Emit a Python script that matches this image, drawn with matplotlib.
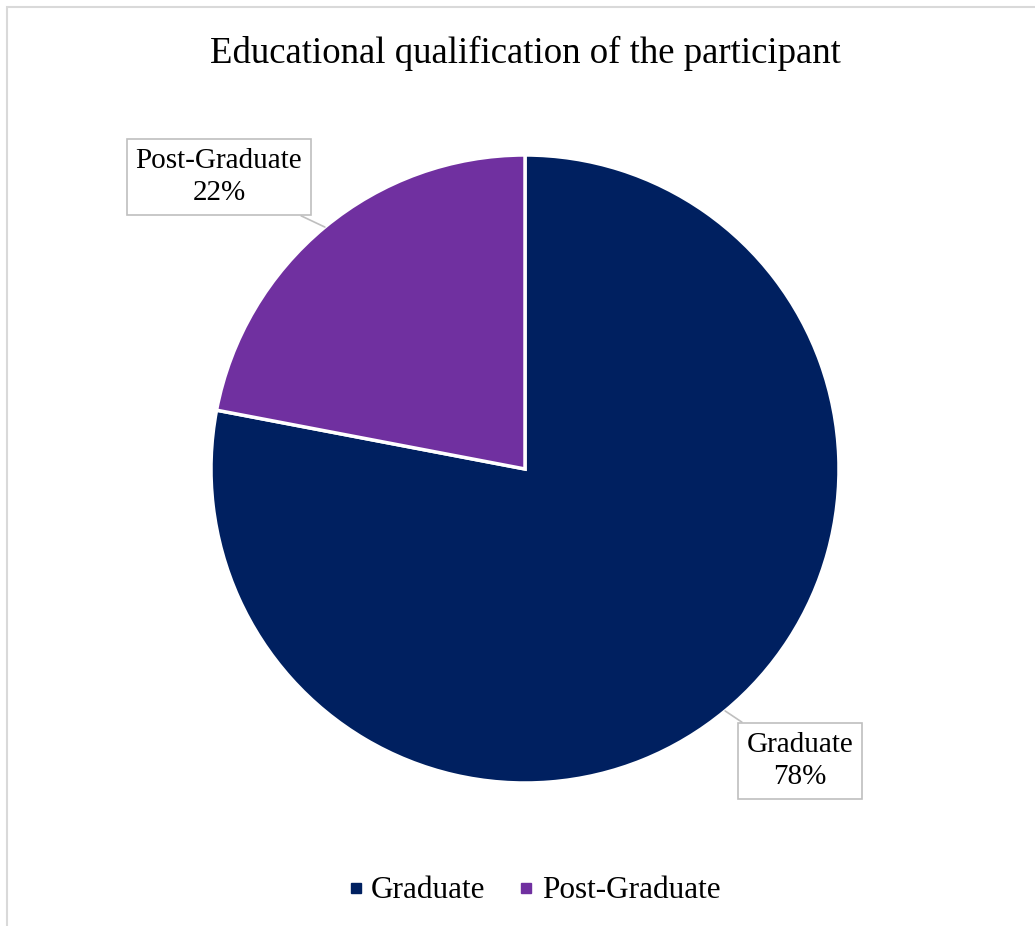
import numpy as np
import matplotlib.pyplot as plt
from matplotlib.patches import Rectangle

plt.rcParams['font.family'] = ['Liberation Serif', 'DejaVu Serif']

categories = ['Graduate', 'Post-Graduate']
shares = [78, 22]
colors = ['#002060', '#7030A0']
title = 'Educational qualification of the participant'

W, H = 1035, 926
fig = plt.figure(figsize=(W / 100, H / 100), dpi=100)
ax = fig.add_axes([0, 0, 1, 1])

# outer chart frame, cut off at right and bottom
fig.patches.append(Rectangle((7 / W, -0.1), 1.2, 1.1 - 7 / H, transform=fig.transFigure,
                             fill=False, edgecolor='#d9d9d9', linewidth=1.5))

cx, cy, r = 525, H - 469, 314
wedges, _ = ax.pie(shares, colors=colors, startangle=90, counterclock=False,
                   center=(cx, cy), radius=r, frame=True,
                   wedgeprops=dict(edgecolor='white', linewidth=2.5))
ax.set_xlim(0, W)
ax.set_ylim(0, H)
ax.set_aspect('equal')
ax.axis('off')

fig.text(525 / W, 1 - 53 / H, title, ha='center', va='center', fontsize=26.5)

# data labels in callout boxes
label_pos = {'Graduate': (800, H - 761), 'Post-Graduate': (219, H - 177)}
for w, cat, val in zip(wedges, categories, shares):
    mid = np.deg2rad((w.theta1 + w.theta2) / 2)
    px, py = cx + r * np.cos(mid), cy + r * np.sin(mid)
    ax.annotate(f'{cat}\n{val}%', xy=(px, py), xytext=label_pos[cat],
                ha='center', va='center', fontsize=21, linespacing=1.35,
                bbox=dict(boxstyle='square,pad=0.3', fc='white', ec='#bfbfbf', lw=1.2),
                arrowprops=dict(arrowstyle='-', color='#bfbfbf', lw=1.2, shrinkA=0, shrinkB=0))

handles = [plt.Line2D([], [], marker='s', linestyle='', markersize=7.5, color=c) for c in colors]
fig.legend(handles, categories, loc='center', bbox_to_anchor=(531 / W, 1 - 891 / H),
           ncol=2, frameon=False, fontsize=22.5, handletextpad=0.05, columnspacing=0.85,
           handlelength=0.9)

fig.savefig('out.png', dpi=100)
